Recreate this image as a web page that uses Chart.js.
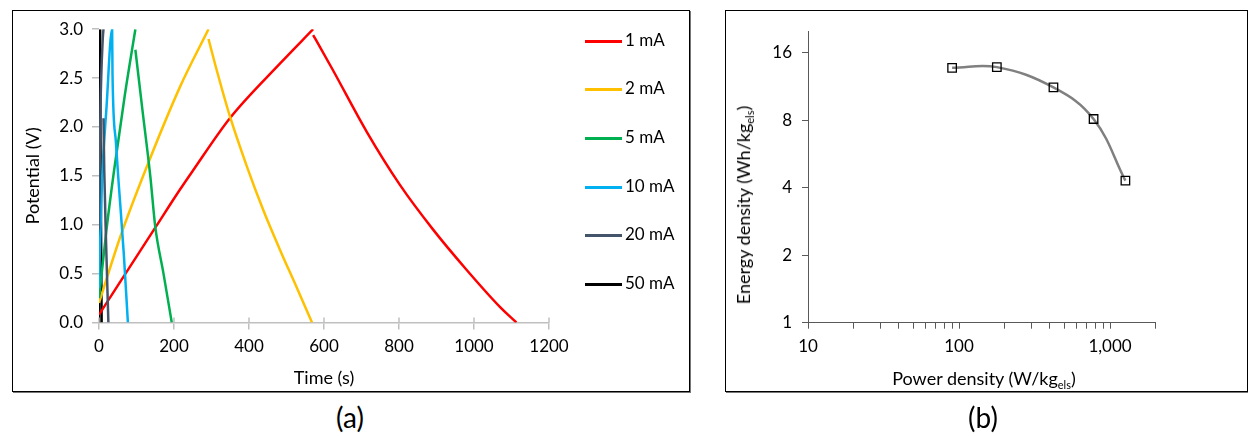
<!DOCTYPE html>
<html lang="en">
<head>
  <meta charset="UTF-8">
  <title>Charge-discharge and Ragone plot</title>
  <script src="https://cdn.jsdelivr.net/npm/chart.js"></script>
  <style>
    body {
      margin: 0;
      background: #fff;
      font-family: 'Lato', sans-serif;
      color: #000;
    }
    #page {
      position: relative;
      width: 1248px;
      height: 436px;
      overflow: hidden;
    }
    .box {
      position: absolute;
      border: 1.5px solid #000;
      box-shadow: 1px 1px 0 #777;
    }
    canvas.chart {
      position: absolute;
    }
    .legendItem {
      position: absolute;
      left: 585px;
      height: 20px;
      font-size: 17px;
      line-height: 20px;
      white-space: nowrap;
    }
    .legendItem span.swatch {
      display: inline-block;
      width: 37px;
      height: 3px;
      vertical-align: middle;
      margin-right: 3px;
    }
    .caption {
      position: absolute;
      font-size: 28px;
      transform: translate(-50%, -50%);
    }
    .axisTitle {
      position: absolute;
      font-size: 18px;
      white-space: nowrap;
      transform: translate(-50%, -50%);
    }
    .axisTitle sub {
      font-size: 11px;
      vertical-align: -4px;
    }
  </style>
</head>
<body>
<div id="page">
  <div class="box" style="left:12px; top:10px; width:676px; height:380px;"></div>
  <div class="box" style="left:725px; top:10px; width:521px; height:380px;"></div>

  <canvas id="graficoCarga" class="chart" width="678" height="382" style="left:12px; top:10px;"></canvas>
  <canvas id="graficoRagone" class="chart" width="521" height="382" style="left:725px; top:10px;"></canvas>

  <div id="leyenda"></div>

  <div class="axisTitle" style="left:984px; top:379px;">Power density (W/kg<sub>els</sub>)</div>
  <div class="axisTitle" style="left:744px; top:205px; transform:translate(-50%,-50%) rotate(-90deg);">Energy density (Wh/kg<sub>els</sub>)</div>

  <div class="caption" style="left:350px; top:417px;">(a)</div>
  <div class="caption" style="left:983px; top:417px;">(b)</div>
</div>

<script>
  // ---- (a) galvanostatic charge / discharge ----
  var corrientes = ['1 mA', '2 mA', '5 mA', '10 mA', '20 mA', '50 mA'];
  var colores = ['#FF0000', '#FFC000', '#00B050', '#00B0F0', '#44546A', '#000000'];
  // orden de dibujo: el de mayor numero queda debajo
  var capas = [4, 3, 2, 1, 0, 5];

  // el punto repetido en t marca el salto IR entre carga y descarga
  var t1mA = [0, 150, 216, 248, 349, 483, 571, 571, 589, 624, 714, 802, 891, 980, 1069, 1113];
  var v1mA = [0.08, 0.97, 1.36, 1.54, 2.09, 2.65, 3.0, 2.94, 2.82, 2.58, 1.95, 1.41, 0.95, 0.54, 0.16, 0];

  var t2mA = [0, 57, 124, 216, 292, 292, 314, 349, 394, 438, 483, 527, 568];
  var v2mA = [0.2, 0.88, 1.56, 2.41, 3.0, 2.9, 2.58, 2.11, 1.6, 1.15, 0.74, 0.36, 0];

  var t5mA = [0, 20, 40, 69, 97, 97, 115, 137, 150, 172, 194];
  var v5mA = [0.25, 0.95, 1.55, 2.33, 3.0, 2.79, 2.2, 1.49, 0.98, 0.5, 0];

  var t10mA = [0, 2, 8, 20, 35, 36, 45, 52, 66, 77];
  var v10mA = [0.35, 0.7, 1.45, 2.2, 3.0, 2.55, 1.85, 1.45, 0.71, 0];

  var t20mA = [0, 1, 4, 10, 12, 12, 14, 19, 25];
  var v20mA = [0.95, 1.3, 2.2, 2.9, 3.0, 2.09, 1.56, 0.8, 0];

  var t50mA = [0, 1, 2, 3, 3, 5, 7];
  var v50mA = [0, 0.7, 1.8, 3.0, 2.4, 1.2, 0];

  var tiempos = [t1mA, t2mA, t5mA, t10mA, t20mA, t50mA];
  var voltajes = [v1mA, v2mA, v5mA, v10mA, v20mA, v50mA];

  // ---- (b) Ragone plot ----
  var powerDensity = [90, 178, 422, 778, 1264];
  var energyDensity = [13.7, 13.8, 11.2, 8.1, 4.3];
  var energyTicks = [1, 2, 4, 8, 16];
  var powerTicks = [10, 20, 30, 40, 50, 60, 70, 80, 90, 100, 200, 300, 400, 500, 600, 700, 800, 900, 1000, 2000];
  var powerLabelValues = [10, 100, 1000];
  var powerLabelText = ['10', '100', '1,000'];

  Chart.defaults.font.family = 'Lato';
  Chart.defaults.font.size = 17;
  Chart.defaults.color = '#000';

  // leyenda en HTML
  var leyenda = document.getElementById('leyenda');
  var filasY = [40, 88, 137, 186, 234, 283];
  corrientes.forEach(function (nombre, i) {
    var fila = document.createElement('div');
    fila.className = 'legendItem';
    fila.style.top = (filasY[i] - 10) + 'px';
    fila.innerHTML = '<span class="swatch" style="background:' + colores[i] + '"></span>' + nombre;
    leyenda.appendChild(fila);
  });

  // cada serie se parte en carga y descarga (dos trazos del mismo color)
  var datasetsCarga = [];
  corrientes.forEach(function (nombre, i) {
    var t = tiempos[i], v = voltajes[i];
    var corte = 1;
    while (corte < t.length && t[corte] !== t[corte - 1]) corte++;
    var puntos = t.map(function (x, j) { return { x: x, y: v[j] }; });
    [puntos.slice(0, corte), puntos.slice(corte)].forEach(function (tramo) {
      datasetsCarga.push({
        label: nombre,
        data: tramo,
        borderColor: colores[i],
        borderWidth: 2.5,
        pointRadius: 0,
        cubicInterpolationMode: 'monotone',
        fill: false,
        order: capas[i]
      });
    });
  });

  // marcas del eje x que cruzan la linea
  var marcasCruzadas = {
    id: 'marcasCruzadas',
    afterDraw: function (chart) {
      var x = chart.scales.x;
      var ctx = chart.ctx;
      ctx.save();
      ctx.strokeStyle = '#BFBFBF';
      ctx.lineWidth = 1.5;
      x.ticks.forEach(function (tk) {
        var px = x.getPixelForValue(tk.value);
        ctx.beginPath();
        ctx.moveTo(px, x.top - 5);
        ctx.lineTo(px, x.top);
        ctx.stroke();
      });
      ctx.restore();
    }
  };

  new Chart(document.getElementById('graficoCarga').getContext('2d'), {
    type: 'line',
    data: { datasets: datasetsCarga },
    options: {
      responsive: false,
      animation: false,
      layout: { padding: { top: 18, right: 141, bottom: 0, left: 0 } },
      plugins: { legend: { display: false }, tooltip: { enabled: false } },
      scales: {
        x: {
          type: 'linear',
          min: 0,
          max: 1200,
          afterFit: function (s) { s.height = 69.5; },
          ticks: {
            stepSize: 200,
            padding: 7,
            maxRotation: 0,
            callback: function (v) { return String(v); }
          },
          grid: { drawOnChartArea: false, color: '#BFBFBF', lineWidth: 1.5, tickLength: 7 },
          border: { color: '#BFBFBF', width: 1.5 },
          title: { display: true, text: 'Time (s)', font: { size: 18 }, padding: { top: 0, bottom: 3 } }
        },
        y: {
          min: 0,
          max: 3,
          afterFit: function (s) { s.width = 87; },
          ticks: {
            stepSize: 0.5,
            padding: 9,
            callback: function (v) { return v.toFixed(1); }
          },
          grid: { drawOnChartArea: false, color: '#BFBFBF', lineWidth: 1.5, tickLength: 7 },
          border: { display: false },
          title: { display: true, text: 'Potential (V)', font: { size: 18 }, padding: { top: 10, bottom: 0 } }
        }
      }
    },
    plugins: [marcasCruzadas]
  });

  new Chart(document.getElementById('graficoRagone').getContext('2d'), {
    type: 'line',
    data: {
      datasets: [{
        label: 'Ragone',
        data: powerDensity.map(function (p, i) { return { x: p, y: energyDensity[i] }; }),
        borderColor: '#808080',
        borderWidth: 2.5,
        tension: 0.4,
        pointStyle: 'rect',
        pointRadius: 6,
        pointBorderColor: '#000',
        pointBorderWidth: 1.3,
        pointBackgroundColor: 'rgba(0,0,0,0)',
        fill: false
      }]
    },
    options: {
      responsive: false,
      animation: false,
      layout: { padding: { top: 21, right: 90.5, bottom: 0, left: 0 } },
      plugins: { legend: { display: false }, tooltip: { enabled: false } },
      scales: {
        x: {
          type: 'logarithmic',
          min: 10,
          max: 2000,
          afterFit: function (s) { s.height = 69.3; },
          afterBuildTicks: function (s) {
            s.ticks = powerTicks.map(function (v) { return { value: v }; });
          },
          ticks: {
            autoSkip: false,
            maxRotation: 0,
            padding: 8,
            callback: function (v) {
              var k = powerLabelValues.indexOf(v);
              return k >= 0 ? powerLabelText[k] : '';
            }
          },
          grid: { drawOnChartArea: false, color: '#595959', tickLength: 6 },
          border: { color: '#595959', width: 1 }
        },
        y: {
          type: 'logarithmic',
          min: 1,
          max: 20,
          afterFit: function (s) { s.width = 83; },
          afterBuildTicks: function (s) {
            s.ticks = energyTicks.map(function (v) { return { value: v }; });
          },
          ticks: {
            autoSkip: false,
            padding: 10,
            callback: function (v) { return String(v); }
          },
          grid: { drawOnChartArea: false, color: '#595959', tickLength: 6 },
          border: { color: '#595959', width: 1 }
        }
      }
    }
  });
</script>
</body>
</html>
